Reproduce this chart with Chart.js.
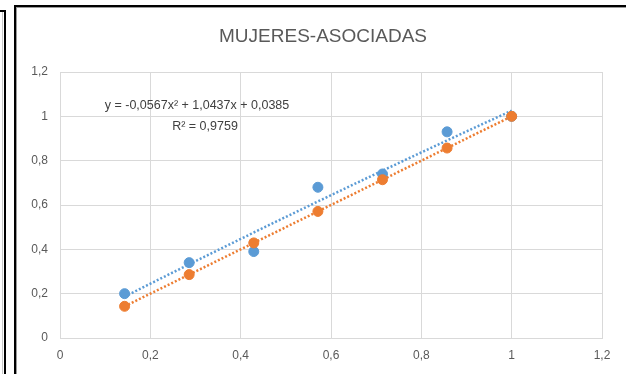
<!DOCTYPE html>
<html>
<head>
<meta charset="utf-8">
<script src="https://cdn.jsdelivr.net/npm/chart.js@4.4.0/dist/chart.umd.min.js"></script>
<style>
  html, body { margin: 0; padding: 0; background: #ffffff; }
  #wrap { position: absolute; left: 0; top: 0; width: 626px; height: 374px; }
</style>
</head>
<body>
<div id="wrap"><canvas id="c" width="626" height="374"></canvas></div>
<script>
// ---- Data ----
const chartTitle = "MUJERES-ASOCIADAS";
const xValues   = [0.143, 0.286, 0.429, 0.571, 0.714, 0.857, 1.0];
const mujeres   = [0.20, 0.34, 0.39, 0.68, 0.74, 0.93, 1.0];
const asociadas = [0.143, 0.286, 0.429, 0.571, 0.714, 0.857, 1.0];
// polynomial trendline coefficients shown on the chart (a, b, c): y = a x^2 + b x + c
const polyCoef = [-0.0567, 1.0437, 0.0385];
const equationLabel = "y = -0,0567x² + 1,0437x + 0,0385";
const r2Label = "R² = 0,9759";
const xTicks = [0, 0.2, 0.4, 0.6, 0.8, 1, 1.2];
const yTicks = [0, 0.2, 0.4, 0.6, 0.8, 1, 1.2];

const BLUE = "#5B9BD5";
const ORANGE = "#ED7D31";

// trendline for series 1: evaluate displayed polynomial across the data range
const xMin = Math.min(...xValues), xMax = Math.max(...xValues);
const polyLine = [];
for (let i = 0; i <= 40; i++) {
  const x = xMin + (xMax - xMin) * i / 40;
  polyLine.push({ x, y: polyCoef[0] * x * x + polyCoef[1] * x + polyCoef[2] });
}
// linear least-squares trendline for series 2
const n = xValues.length;
const mx = xValues.reduce((a, b) => a + b, 0) / n;
const my = asociadas.reduce((a, b) => a + b, 0) / n;
let sxy = 0, sxx = 0;
for (let i = 0; i < n; i++) { sxy += (xValues[i] - mx) * (asociadas[i] - my); sxx += (xValues[i] - mx) ** 2; }
const slope = sxy / sxx, icpt = my - slope * mx;
const linLine = [{ x: xMin, y: slope * xMin + icpt }, { x: xMax, y: slope * xMax + icpt }];

const fmt = v => String(Math.round(v * 10) / 10).replace('.', ',');

const framePlugin = {
  id: 'frame',
  afterDraw(chart) {
    const ctx = chart.ctx;
    ctx.save();
    // left neighbouring box edge
    ctx.fillStyle = '#c8c8c8';
    ctx.fillRect(2, 12, 1, 362);
    ctx.fillStyle = '#000000';
    ctx.fillRect(4, 10, 2, 364);
    ctx.fillRect(0, 10, 6, 2);
    // chart box double border
    ctx.fillStyle = '#000000';
    ctx.fillRect(14, 5, 2, 369);
    ctx.fillRect(14, 5, 612, 2);
    ctx.fillStyle = '#9a9a9a';
    ctx.fillRect(16, 7, 1, 367);
    ctx.fillRect(16, 7, 610, 1);
    ctx.textAlign = 'center';
    ctx.textBaseline = 'middle';
    // title
    ctx.fillStyle = '#595959';
    ctx.font = '19px "Liberation Sans", Arial, sans-serif';
    ctx.fillText(chartTitle, 323, 37);
    // trendline equation labels
    ctx.fillStyle = '#404040';
    ctx.font = '12.5px "Liberation Sans", Arial, sans-serif';
    ctx.fillText(equationLabel, 197, 106);
    ctx.fillText(r2Label, 205, 127);
    ctx.restore();
  }
};

new Chart(document.getElementById('c'), {
  type: 'scatter',
  data: {
    datasets: [
      { label: 'Mujeres', data: xValues.map((x, i) => ({ x, y: mujeres[i] })),
        backgroundColor: BLUE, borderColor: BLUE, pointRadius: 5, pointHoverRadius: 5, order: 2 },
      { label: 'Asociadas', data: xValues.map((x, i) => ({ x, y: asociadas[i] })),
        backgroundColor: ORANGE, borderColor: ORANGE, pointRadius: 5, pointHoverRadius: 5, order: 1 },
      { label: 'Tendencia Mujeres', type: 'line', data: polyLine, showLine: true,
        borderColor: BLUE, borderWidth: 2.5, borderDash: [2, 2], pointRadius: 0, fill: false, order: 4 },
      { label: 'Tendencia Asociadas', type: 'line', data: linLine, showLine: true,
        borderColor: ORANGE, borderWidth: 2.5, borderDash: [2, 2], pointRadius: 0, fill: false, order: 3 }
    ]
  },
  options: {
    responsive: false,
    animation: false,
    devicePixelRatio: 1,
    layout: { padding: { left: 0, right: 24, top: 72, bottom: 0 } },
    plugins: {
      legend: { display: false },
      tooltip: { enabled: false },
      title: { display: false }
    },
    scales: {
      x: {
        type: 'linear', min: 0, max: 1.2,
        afterBuildTicks: s => { s.ticks = xTicks.map(v => ({ value: v })); },
        afterFit: s => { s.height = 36; },
        grid: { color: '#d9d9d9', lineWidth: 1, drawTicks: false },
        border: { color: '#d9d9d9' },
        ticks: { color: '#595959', padding: 10, callback: v => fmt(v),
          font: { family: '"Liberation Sans", Arial, sans-serif', size: 12 } }
      },
      y: {
        type: 'linear', min: 0, max: 1.2,
        afterBuildTicks: s => { s.ticks = yTicks.map(v => ({ value: v })); },
        afterFit: s => { s.width = 60; },
        grid: { color: '#d9d9d9', lineWidth: 1, drawTicks: false },
        border: { color: '#d9d9d9' },
        ticks: { color: '#595959', padding: 12, callback: v => fmt(v),
          font: { family: '"Liberation Sans", Arial, sans-serif', size: 12 } }
      }
    }
  },
  plugins: [framePlugin]
});
</script>
</body>
</html>
